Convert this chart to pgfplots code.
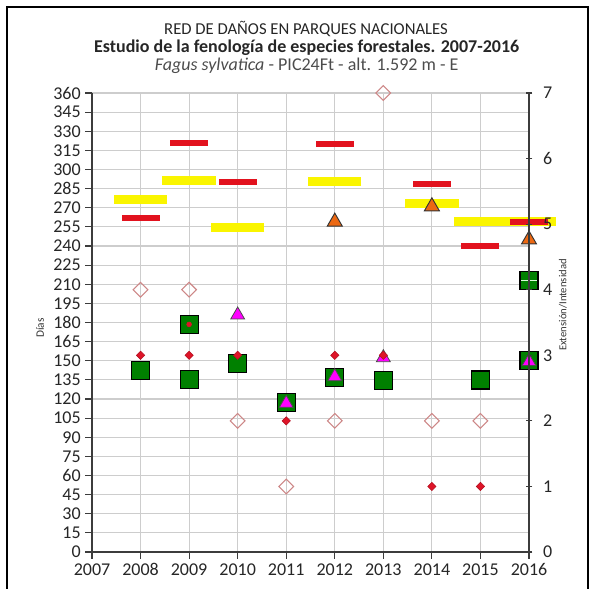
\documentclass[border=0pt]{standalone}
\usepackage{fontspec}
\setmainfont{Carlito}
\usepackage{pgfplots}
\pgfplotsset{compat=1.18}

\definecolor{barred}{RGB}{226,18,30}
\definecolor{baryellow}{RGB}{250,245,0}
\definecolor{sqgreen}{RGB}{0,128,0}
\definecolor{trimag}{RGB}{255,0,255}
\definecolor{triorange}{RGB}{236,104,18}
\definecolor{dotred}{RGB}{222,20,40}
\definecolor{diapink}{RGB}{205,135,135}
\definecolor{gridgray}{RGB}{205,205,205}
\definecolor{axisgray}{RGB}{60,60,60}

\pgfplotsset{
  base/.style={
    scale only axis, width=327.75pt, height=344.25pt,
    at={(0,0)}, anchor=south west,
    xmin=2007, xmax=2016,
    clip=false,
    axis line style={axisgray, line width=1.3pt, -},
    tick style={axisgray, line width=0.9pt},
    major tick length=5pt,
    ticklabel style={font=\fontsize{13.5}{14}\selectfont, text=black!85},
    /pgf/number format/assume math mode=true,
    /pgf/number format/1000 sep={},
  },
}

\begin{document}
\begin{tikzpicture}
\path[use as bounding box] (-69pt,-27.75pt) rectangle (375.75pt,414pt);
\draw[line width=1.5pt, black] (-63.75pt,-27.75pt) -- (-63.75pt,408.75pt) -- (372pt,408.75pt) -- (372pt,-27.75pt);

% left axis: days
\begin{axis}[base,
  ymin=0, ymax=360,
  xtick={2007,2008,...,2016}, ytick={0,15,...,360},
  axis x line*=bottom, axis y line*=left,
  tick align=outside,
  grid=major, major grid style={gridgray, line width=0.8pt},
]
% yellow bars
\addplot[only marks, mark=-, mark size=20pt, mark options={draw=baryellow, line width=6.75pt}]
  coordinates {(2008,276.6) (2009,291.2) (2010,254.9) (2012,290.2) (2014,273.5) (2015,259) (2016,259)};
% red bars
\addplot[only marks, mark=-, mark size=14.25pt, mark options={draw=barred, line width=4.5pt}]
  coordinates {(2008,261.6) (2009,321) (2010,290.4) (2012,320) (2014,288.4) (2015,240.2) (2016,259)};
% green squares
\addplot[only marks, mark=square*, mark size=6.75pt, mark options={fill=sqgreen, draw=black, line width=0.8pt}]
  coordinates {(2008,142.2) (2009,178.5) (2009,135.4) (2010,147.5) (2011,117.6) (2012,137) (2013,134.4) (2015,134.9) (2016,150) (2016,213.3)};
\addplot[only marks, mark=+, mark size=6pt, mark options={draw=white!85!green, line width=0.7pt}]
  coordinates {(2016,213.3)};
\addplot[only marks, mark=*, mark size=1.8pt, mark options={fill=dotred, draw=dotred}]
  coordinates {(2009,178.5)};
% magenta triangles
\addplot[only marks, mark=triangle*, mark size=6pt, mark options={fill=trimag, draw=black!70, line width=0.6pt}]
  coordinates {(2010,185.9) (2011,116.6) (2012,137.5) (2013,152.4) (2016,149.3)};
% orange triangles
\addplot[only marks, mark=triangle*, mark size=6.5pt, mark options={fill=triorange, draw=black!80, line width=0.7pt}]
  coordinates {(2012,259) (2014,271) (2016,245)};
\end{axis}

% right axis: extent / intensity
\begin{axis}[base,
  ymin=0, ymax=7,
  ytick={0,1,...,7},
  axis x line=none, axis y line*=right,
  tick align=center,
  yticklabel style={xshift=4.5pt},
]
% hollow diamonds
\addplot[only marks, mark=square, mark size=3.9pt, mark options={rotate=45, fill=white, draw=diapink, line width=0.8pt}]
  coordinates {(2008,4) (2009,4) (2010,2) (2011,1) (2012,2) (2013,7) (2014,2) (2015,2)};
% small red diamonds
\addplot[only marks, mark=square*, mark size=2.2pt, mark options={rotate=45, fill=dotred, draw=dotred!80!black, line width=0.4pt}]
  coordinates {(2008,3) (2009,3) (2010,3) (2011,2) (2012,3) (2013,3) (2014,1) (2015,1)};
\end{axis}

% titles and axis labels
\node[inner sep=0pt, font=\fontsize{12.5}{13}\selectfont, text=black!85] at (160.5pt,392pt) {RED DE DAÑOS EN PARQUES NACIONALES};
\node[inner sep=0pt, font=\bfseries\fontsize{13.5}{14}\selectfont, text=black!85] at (161pt,378pt) {Estudio de la fenología de especies forestales. 2007-2016};
\node[inner sep=0pt, font=\fontsize{13.5}{14}\selectfont, text=black!70] at (161pt,365pt) {\textit{Fagus sylvatica} - PIC24Ft - alt. 1.592 m - E};
\node[rotate=90, font=\fontsize{8.5}{9}\selectfont, text=black!80] at (-39pt,168pt) {Días};
\node[rotate=90, font=\fontsize{8}{9}\selectfont, text=black!80] at (353.25pt,185.25pt) {Extensión/Intensidad};
\end{tikzpicture}
\end{document}
